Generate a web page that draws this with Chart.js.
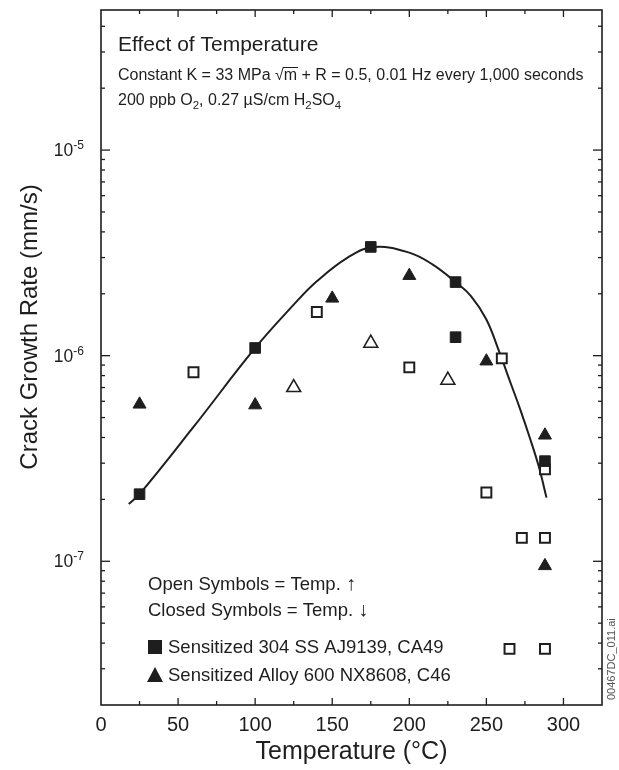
<!DOCTYPE html>
<html><head><meta charset="utf-8">
<script src="https://cdn.jsdelivr.net/npm/chart.js@4/dist/chart.umd.min.js"></script>
<style>html,body{margin:0;padding:0;background:#fff}#wrap{width:619px;height:770px}</style>
</head><body><div id="wrap"><canvas id="c" width="619" height="770"></canvas></div>
<script>
// ---- data ----
const fitT = [18, 25, 60, 100, 125, 140, 160, 177, 200, 215, 230, 240, 250, 258, 266, 272, 278, 284, 289];
const fitRate = [1.9e-7, 2.12e-7, 4.5e-7, 1.09e-6, 1.77e-6, 2.3e-6, 3.0e-6, 3.38e-6, 3.17e-6, 2.78e-6, 2.28e-6, 1.95e-6, 1.5e-6, 1.06e-6, 7.26e-7, 5.47e-7, 4.02e-7, 2.89e-7, 2.04e-7];
const ssClosedT = [25, 100, 175, 230, 230, 288];
const ssClosedRate = [2.12e-7, 1.09e-6, 3.38e-6, 2.28e-6, 1.23e-6, 3.07e-7];
const ssOpenT = [60, 140, 200, 260, 250, 273, 288, 288, 265, 288];
const ssOpenRate = [8.3e-7, 1.63e-6, 8.77e-7, 9.7e-7, 2.16e-7, 1.3e-7, 1.3e-7, 2.8e-7, 3.75e-8, 3.75e-8];
const a600ClosedT = [25, 100, 150, 200, 250, 288, 288];
const a600ClosedRate = [5.8e-7, 5.75e-7, 1.9e-6, 2.45e-6, 9.4e-7, 4.1e-7, 9.5e-8];
const a600OpenT = [125, 175, 225];
const a600OpenRate = [7.0e-7, 1.15e-6, 7.6e-7];
const xTickValues = [0, 50, 100, 150, 200, 250, 300];
const yTickValues = [1e-7, 1e-6, 1e-5];
const yTickExponents = ['-7', '-6', '-5'];

const pts = (xs, ys) => xs.map((t, i) => ({x: t, y: ys[i]}));
const INK = '#1e1e1e';
const FONT = '"Liberation Sans", Arial, sans-serif';

const decor = {
  id: 'decor',
  afterDraw(chart) {
    const {ctx, chartArea: a, scales: {x, y}} = chart;
    ctx.save();
    ctx.strokeStyle = INK; ctx.fillStyle = INK;
    ctx.lineWidth = 1.6;
    ctx.strokeRect(a.left, a.top, a.right - a.left, a.bottom - a.top);
    ctx.lineWidth = 1.3;
    const seg = (x1, y1, x2, y2) => { ctx.beginPath(); ctx.moveTo(x1, y1); ctx.lineTo(x2, y2); ctx.stroke(); };
    for (let v = 25; v < x.max; v += 25) {
      const px = x.getPixelForValue(v);
      const L = v % 50 === 0 ? 7 : 4;
      seg(px, a.bottom, px, a.bottom - L);
      seg(px, a.top, px, a.top + L);
    }
    for (let e = -8; e <= -5; e++) {
      for (let m = 1; m <= 9; m++) {
        const v = m * Math.pow(10, e);
        if (v <= y.min * 1.0001 || v >= y.max * 0.9999) continue;
        const py = y.getPixelForValue(v);
        const L = m === 1 ? 9 : 4;
        seg(a.left, py, a.left + L, py);
        seg(a.right, py, a.right - L, py);
      }
    }
    // y tick labels 10^n
    ctx.textBaseline = 'alphabetic';
    yTickValues.forEach((v, i) => {
      const py = y.getPixelForValue(v);
      ctx.font = '12px ' + FONT;
      const we = ctx.measureText(yTickExponents[i]).width;
      ctx.textAlign = 'left';
      const right = a.left - 17;
      ctx.fillText(yTickExponents[i], right - we, py - 1);
      ctx.font = '17.5px ' + FONT;
      ctx.textAlign = 'right';
      ctx.fillText('10', right - we, py + 6);
    });
    // y axis title
    ctx.save();
    ctx.translate(37, 327);
    ctx.rotate(-Math.PI / 2);
    ctx.font = '24px ' + FONT;
    ctx.textAlign = 'center';
    ctx.fillText('Crack Growth Rate (mm/s)', 0, 0);
    ctx.restore();
    // side file tag
    ctx.save();
    ctx.translate(615, 700);
    ctx.rotate(-Math.PI / 2);
    ctx.font = '11px ' + FONT;
    ctx.textAlign = 'left';
    ctx.fillStyle = '#555';
    ctx.fillText('00467DC_011.ai', 0, 0);
    ctx.restore();
    // header texts
    ctx.textAlign = 'left';
    ctx.font = '21px ' + FONT;
    ctx.fillText('Effect of Temperature', 118, 51);
    let cx = 118, by = 80;
    const F2 = '16px ' + FONT, FS = '11.5px ' + FONT;
    ctx.font = F2;
    const put = (s, dx = 0, dy = 0) => { ctx.fillText(s, cx + dx, by + dy); cx += ctx.measureText(s).width + dx; };
    put('Constant K = 33 MPa ');
    put('\u221A');
    const mX = cx;
    put('m');
    ctx.lineWidth = 1;
    seg(mX - 1, by - 12.5, cx + 1, by - 12.5);
    put(' + R = 0.5, 0.01 Hz every 1,000 seconds');
    cx = 118; by = 105;
    ctx.font = F2; put('200 ppb O');
    ctx.font = FS; put('2', 0, 4);
    ctx.font = F2; put(', 0.27 \u00B5S/cm H');
    ctx.font = FS; put('2', 0, 4);
    ctx.font = F2; put('SO');
    ctx.font = FS; put('4', 0, 4);
    // legend block
    ctx.font = '18.5px ' + FONT;
    cx = 148; by = 590; put('Open Symbols = Temp. ');
    ctx.font = 'bold 20px ' + FONT; put('\u2191');
    ctx.font = '18.5px ' + FONT;
    cx = 148; by = 616; put('Closed Symbols = Temp. ');
    ctx.font = 'bold 20px ' + FONT; put('\u2193');
    ctx.font = '18.5px ' + FONT;
    // legend markers
    ctx.fillRect(148, 640, 14, 14);
    ctx.beginPath(); ctx.moveTo(155, 667); ctx.lineTo(163, 682); ctx.lineTo(147, 682); ctx.closePath(); ctx.fill();
    ctx.fillText('Sensitized 304 SS AJ9139, CA49', 168, 653);
    ctx.fillText('Sensitized Alloy 600 NX8608, C46', 168, 681);
    ctx.restore();
  }
};

new Chart(document.getElementById('c'), {
  type: 'scatter',
  data: {
    datasets: [
      { label: 'Sensitized 304 SS (closed)', data: pts(ssClosedT, ssClosedRate), pointStyle: 'rect', pointRadius: 7.5,
        backgroundColor: INK, borderColor: INK, borderWidth: 1 },
      { label: 'Sensitized 304 SS (open)', data: pts(ssOpenT, ssOpenRate), pointStyle: 'rect', pointRadius: 7,
        backgroundColor: '#fff', borderColor: INK, borderWidth: 2 },
      { label: 'Alloy 600 (closed)', data: pts(a600ClosedT, a600ClosedRate), pointStyle: 'triangle', pointRadius: 7.5,
        backgroundColor: INK, borderColor: INK, borderWidth: 1 },
      { label: 'Alloy 600 (open)', data: pts(a600OpenT, a600OpenRate), pointStyle: 'triangle', pointRadius: 8,
        backgroundColor: '#fff', borderColor: INK, borderWidth: 1.6 },
      { label: 'Fit', data: pts(fitT, fitRate), showLine: true, pointRadius: 0, borderColor: INK, borderWidth: 2,
        tension: 0.4, fill: false }
    ]
  },
  options: {
    responsive: false, animation: false, devicePixelRatio: 1,
    layout: { padding: { top: 10, right: 17, left: 0, bottom: 0 } },
    plugins: { legend: { display: false }, tooltip: { enabled: false } },
    scales: {
      x: {
        type: 'linear', min: 0, max: 325,
        grid: { display: false, drawTicks: false }, border: { display: false },
        afterBuildTicks: s => { s.ticks = xTickValues.map(v => ({value: v})); },
        afterFit: s => { s.height = 65; },
        ticks: { color: INK, font: { size: 20, family: FONT }, padding: 8, maxRotation: 0, autoSkip: false },
        title: { display: true, text: 'Temperature (\u00B0C)', color: INK, font: { size: 25, family: FONT }, padding: { top: 0, bottom: 3 } }
      },
      y: {
        type: 'logarithmic', min: 2e-8, max: 4.8e-5,
        grid: { display: false }, border: { display: false },
        afterBuildTicks: s => { s.ticks = yTickValues.map(v => ({value: v})); },
        afterFit: s => { s.width = 101; },
        ticks: { display: false }
      }
    }
  },
  plugins: [decor]
});
</script>
</body></html>
